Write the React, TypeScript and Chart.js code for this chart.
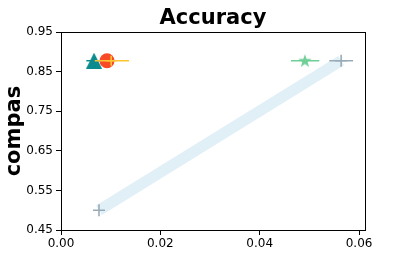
import React, { useEffect, useRef } from "react";
import { Chart, registerables } from "chart.js";

Chart.register(...registerables);

const title = "Accuracy";
const yTitle = "compas";
const xTicks = [0, 0.02, 0.04, 0.06];
const yTicks = [0.45, 0.55, 0.65, 0.75, 0.85, 0.95];

// markers: [x, y]
const trianglePt = { x: 0.00665, y: 0.878 };
const triangleErr = [0.0051, 0.0082];
const circlePt = { x: 0.00926, y: 0.878 };
const yellowPlusPt = { x: 0.0101, y: 0.878 };
const yellowErr = [0.0068, 0.0137];
const starPt = { x: 0.0491, y: 0.878 };
const starErr = [0.0463, 0.052];
const greyPlusTop = { x: 0.0564, y: 0.878 };
const greyErr = [0.054, 0.0588];
const greyPlusBottom = { x: 0.00765, y: 0.5 };

const FONT = "'DejaVu Sans', sans-serif";

function makeStar(color: string, size: number) {
  const c = document.createElement("canvas");
  c.width = size;
  c.height = size;
  const ctx = c.getContext("2d")!;
  const cx = size / 2, cy = size / 2 + 0.5;
  const R = size / 2, r = R * 0.4;
  ctx.beginPath();
  for (let i = 0; i < 10; i++) {
    const rad = i % 2 === 0 ? R : r;
    const a = -Math.PI / 2 + (i * Math.PI) / 5;
    const px = cx + rad * Math.cos(a);
    const py = cy + rad * Math.sin(a);
    if (i === 0) ctx.moveTo(px, py);
    else ctx.lineTo(px, py);
  }
  ctx.closePath();
  ctx.fillStyle = color;
  ctx.fill();
  return c;
}

function makeTriangle(color: string, size: number) {
  const c = document.createElement("canvas");
  c.width = size;
  c.height = size;
  const ctx = c.getContext("2d")!;
  ctx.beginPath();
  ctx.moveTo(size / 2, 0);
  ctx.lineTo(size, size);
  ctx.lineTo(0, size);
  ctx.closePath();
  ctx.fillStyle = color;
  ctx.fill();
  return c;
}

export default function App() {
  const ref = useRef<HTMLCanvasElement>(null);
  useEffect(() => {
    const teal = "#0b8b8d";
    const red = "#f94a28";
    const yellow = "#fbc531";
    const green = "#6fcf97";
    const grey = "#9aabb8";
    const band = "#e1eff7";
    const err = (xs: number[], y: number, color: string, order: number) => ({
      type: "scatter" as const,
      data: [{ x: xs[0], y }, { x: xs[1], y }],
      showLine: true,
      borderColor: color,
      borderWidth: 1.6,
      pointRadius: 0,
      order,
    });
    const chart = new Chart(ref.current!, {
      type: "scatter",
      data: {
        datasets: [
          err(yellowErr, yellowPlusPt.y, yellow, 1),
          {
            data: [yellowPlusPt],
            pointStyle: "cross",
            pointRadius: 5,
            borderColor: yellow,
            borderWidth: 1.6,
            order: 1,
          },
          {
            data: [circlePt],
            pointStyle: "circle",
            pointRadius: 7.5,
            backgroundColor: red,
            borderWidth: 0,
            order: 2,
          },
          {
            data: [trianglePt],
            pointStyle: makeTriangle(teal, 16) as any,
            pointRadius: 8,
            order: 3,
          },
          err(triangleErr, trianglePt.y, teal, 3),
          {
            data: [starPt],
            pointStyle: makeStar(green, 14) as any,
            pointRadius: 7,
            order: 4,
          },
          err(starErr, starPt.y, green, 4),
          {
            data: [greyPlusTop, greyPlusBottom],
            pointStyle: "cross",
            pointRadius: 6,
            borderColor: grey,
            borderWidth: 1.6,
            order: 5,
          },
          err(greyErr, greyPlusTop.y, grey, 5),
          {
            data: [greyPlusBottom, greyPlusTop],
            showLine: true,
            borderColor: band,
            borderWidth: 11,
            borderCapStyle: "butt",
            pointRadius: 0,
            order: 10,
          },
        ] as any,
      },
      options: {
        animation: false,
        responsive: false,
        layout: { padding: { left: 0, right: 42, top: 0, bottom: 0 } },
        plugins: {
          legend: { display: false },
          tooltip: { enabled: false },
          title: {
            display: true,
            fullSize: false,
            text: title,
            color: "#000",
            font: { family: FONT, size: 21, weight: "bold" },
            padding: { top: 6, bottom: 1 },
          },
        },
        scales: {
          x: {
            type: "linear",
            position: "bottom",
            min: 0,
            max: 0.0612,
            afterBuildTicks: (s: any) => {
              s.ticks = xTicks.map((v) => ({ value: v }));
            },
            afterFit: (s: any) => {
              s.height = 41;
            },
            grid: { display: true, drawOnChartArea: false, drawTicks: true, tickLength: 5, color: "#000" },
            border: { display: true, color: "#000", width: 1 },
            ticks: {
              color: "#000",
              padding: 2,
              maxRotation: 0,
              font: { family: FONT, size: 12 },
              callback: (v: any) => Number(v).toFixed(2),
            },
          },
          y: {
            type: "linear",
            position: "left",
            min: 0.45,
            max: 0.95,
            afterBuildTicks: (s: any) => {
              s.ticks = yTicks.map((v) => ({ value: v }));
            },
            afterFit: (s: any) => {
              s.width = 61;
            },
            grid: { display: true, drawOnChartArea: false, drawTicks: true, tickLength: 5, color: "#000" },
            border: { display: true, color: "#000", width: 1 },
            title: {
              display: true,
              text: yTitle,
              color: "#000",
              font: { family: FONT, size: 21, weight: "bold" },
              padding: { top: 2, bottom: 0 },
            },
            ticks: {
              color: "#000",
              padding: 3,
              font: { family: FONT, size: 12 },
              callback: (v: any) => Number(v).toFixed(2),
            },
          },
          x2: {
            type: "linear",
            position: "top",
            min: 0,
            max: 0.0612,
            afterFit: (s: any) => {
              s.height = 0;
            },
            grid: { display: false },
            border: { display: true, color: "#000", width: 1 },
            ticks: { display: false },
          },
          y2: {
            type: "linear",
            position: "right",
            min: 0.45,
            max: 0.95,
            afterFit: (s: any) => {
              s.width = 0;
            },
            grid: { display: false },
            border: { display: true, color: "#000", width: 1 },
            ticks: { display: false },
          },
        },
      } as any,
    });
    return () => chart.destroy();
  }, []);
  return (
    <div style={{ position: "fixed", left: 0, top: 0, width: 407, height: 271, background: "#fff" }}>
      <canvas ref={ref} width={407} height={271} style={{ width: 407, height: 271 }} />
    </div>
  );
}
